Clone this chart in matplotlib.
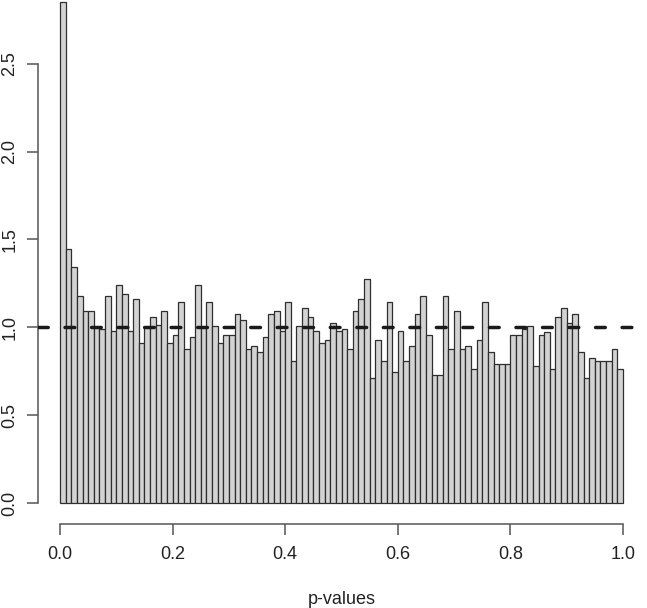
import numpy as np
import matplotlib
matplotlib.use("Agg")
from matplotlib import pyplot as plt

# histogram of p-values, 100 bins on [0, 1], density scale
bin_edges = np.linspace(0, 1, 101)
density = [
    2.85, 1.443, 1.343, 1.176, 1.091, 1.091, 1.00, 0.99, 1.176, 0.977,
    1.24, 1.19, 0.977, 1.159, 0.911, 1.00, 1.06, 1.011, 1.093, 0.911,
    0.958, 1.142, 0.879, 0.943, 1.242, 1.00, 1.142, 1.009, 0.911, 0.958,
    0.958, 1.078, 1.044, 0.879, 0.894, 0.86, 0.943, 1.078, 1.093, 0.979,
    1.144, 0.809, 1.009, 1.11, 1.059, 0.979, 0.911, 0.930, 1.027, 0.979,
    0.992, 0.879, 1.093, 1.159, 1.275, 0.712, 0.930, 0.809, 1.144, 0.744,
    0.979, 0.809, 0.894, 1.078, 1.176, 0.958, 0.727, 0.727, 1.176, 0.879,
    1.093, 0.879, 0.894, 0.761, 0.930, 1.144, 0.858, 0.794, 0.794, 0.794,
    0.958, 0.958, 0.992, 1.009, 0.778, 0.958, 0.975, 0.761, 1.059, 1.11,
    1.027, 1.078, 0.858, 0.712, 0.828, 0.809, 0.809, 0.809, 0.877, 0.761,
]
x_ticks = [0.0, 0.2, 0.4, 0.6, 0.8, 1.0]
y_ticks = [0.0, 0.5, 1.0, 1.5, 2.0, 2.5]
ref_level = 1.0

plt.rcParams['font.family'] = ['Liberation Sans', 'DejaVu Sans']
W, H = 647, 608
fig = plt.figure(figsize=(W / 100, H / 100), dpi=100)
ax = fig.add_axes([37.5 / W, (H - 524) / H, 608 / W, 524 / H])
ax.set_xlim(-0.04, 1.04)
ax.set_ylim(-0.1195, 2.863)

ax.bar(bin_edges[:-1], density, width=np.diff(bin_edges), align='edge',
       color='#d3d3d3', edgecolor='#2e2e2e', linewidth=0.9, zorder=1)

#dashed reference line at density 1
ax.axhline(ref_level, color='#1a1a1a', lw=2.5, linestyle=(0, (2.8, 4.84)),
           dash_capstyle='round', zorder=3)

for side in ['top', 'right']:
    ax.spines[side].set_visible(False)
axis_col = '#555555'
ax.spines['left'].set_bounds(0, 2.5)
ax.spines['bottom'].set_bounds(0, 1)
for side in ['left', 'bottom']:
    ax.spines[side].set_color(axis_col)
    ax.spines[side].set_linewidth(1.1)

ax.set_xticks(x_ticks)
ax.set_xticklabels([f'{v:.1f}' for v in x_ticks])
ax.set_yticks(y_ticks)
ax.set_yticklabels([f'{v:.1f}' for v in y_ticks], rotation=90, va='center')
ax.tick_params(axis='both', direction='out', length=7.8, width=1.1,
               color=axis_col, labelsize=13, labelcolor='#222222')
ax.tick_params(axis='x', pad=8)
ax.tick_params(axis='y', pad=6)

fig.text((37.5 + 304) / W, (H - 604) / H, 'p-values', ha='center', va='baseline',
         fontsize=13, color='#222222')

fig.savefig('out.png', dpi=100)
